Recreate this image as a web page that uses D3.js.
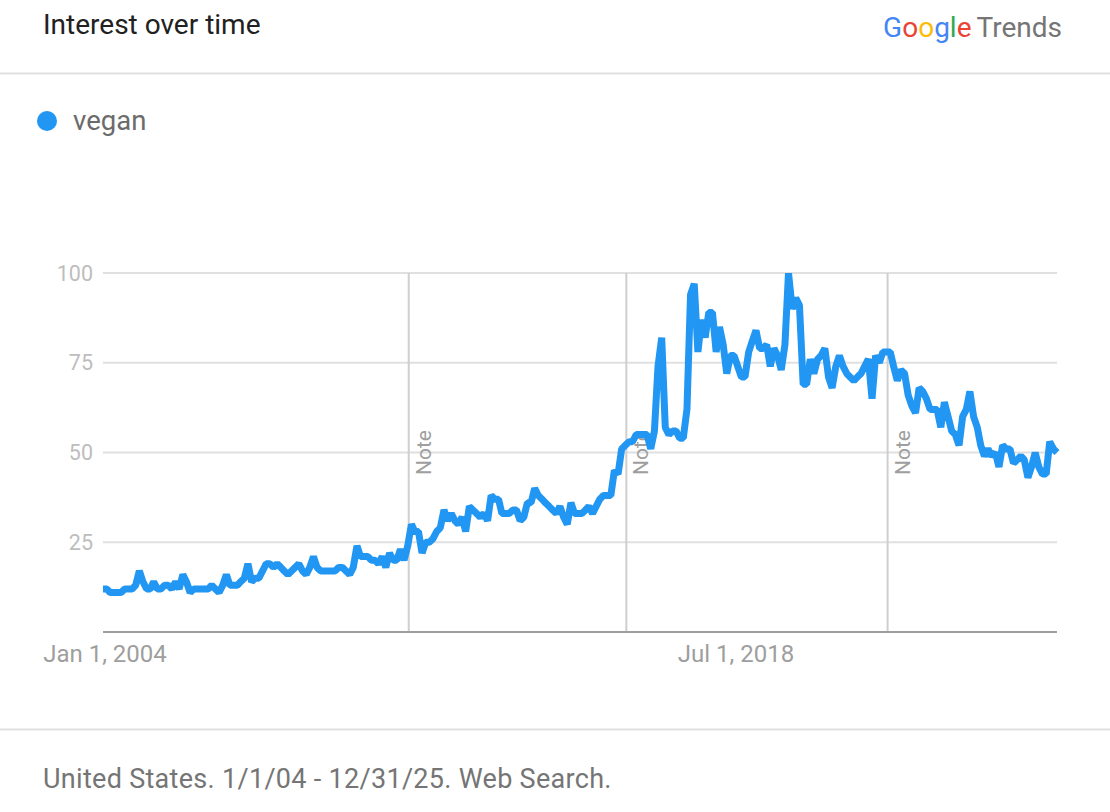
<!DOCTYPE html>
<meta charset="utf-8">
<head>
<style>
body { margin: 0; background: #fff; font-family: Roboto, "Noto Sans", sans-serif; }
svg { display: block; }
</style>
</head>
<body>
<svg width="1110" height="812"></svg>

<script src="https://d3js.org/d3.v7.min.js"></script>
<script>
// monthly interest, Jan 2004 .. Dec 2025
var seriesName = "vegan";
var firstMonth = "2004-01-01";
var vegan = [
  12,12,11,11,11,11,12,12,12,13,17,14,   // 2004
  12,12,14,12,12,13,13,12,14,12,16,14,   // 2005
  11,12,12,12,12,12,13,12,11,13,16,13,   // 2006
  13,13,14,15,19,14,15,15,17,19,19,18,   // 2007
  19,18,17,16,17,18,19,17,16,18,21,18,   // 2008
  17,17,17,17,17,18,18,17,16,18,24,21,   // 2009
  21,21,20,20,19,21,18,22,20,20,23,20,   // 2010
  24,30,28,28,22,25,25,26,28,29,34,31,   // 2011
  33,31,30,32,28,35,34,33,32,33,31,38,   // 2012
  37,37,33,33,33,34,34,31,32,36,36,40,   // 2013
  38,37,36,35,34,33,35,32,30,36,33,33,   // 2014
  33,34,35,33,35,37,38,38,38,45,44,51,   // 2015
  52,53,53,55,55,55,55,51,56,74,82,57,   // 2016
  55,56,56,54,54,62,94,97,78,87,82,89,   // 2017
  89,78,85,80,72,77,77,74,71,71,78,81,   // 2018
  84,79,79,80,74,79,77,73,80,100,90,93,  // 2019
  91,69,69,76,72,76,77,79,71,68,74,77,   // 2020
  74,72,71,70,71,72,74,76,65,77,75,78,   // 2021
  78,78,74,70,73,72,66,63,61,68,67,65,   // 2022
  62,62,62,57,64,60,56,55,52,60,62,67,   // 2023
  60,57,52,49,51,49,50,46,52,51,51,47,   // 2024
  48,49,48,43,46,50,46,44,44,53,51,50    // 2025
];
var yTicks = [25, 50, 75, 100];
var xTickDates = ["2004-01-01", "2018-07-01"];
var xTickLabels = ["Jan 1, 2004", "Jul 1, 2018"];
var noteDates = ["2011-01-01", "2016-01-01", "2022-01-01"];
var footerText = "United States. 1/1/04 - 12/31/25. Web Search.";

var parseDate = d3.timeParse("%Y-%m-%d");
var start = parseDate(firstMonth);
var months = d3.timeMonth.range(start, d3.timeMonth.offset(start, vegan.length));
var data = vegan.map(function(v, i) { return {date: months[i], value: v}; });

var svg = d3.select("svg"),
    W = 1110,
    plot = {left: 103, right: 1057, top: 273, bottom: 632};

var x = d3.scaleTime()
    .domain([months[0], months[months.length - 1]])
    .range([plot.left, plot.right]);
var y = d3.scaleLinear().domain([0, 100]).range([plot.bottom, plot.top]);

// header
svg.append("text")
    .attr("x", 43).attr("y", 34)
    .attr("font-size", 28).attr("fill", "#212121")
    .text("Interest over time");

var logo = svg.append("text")
    .attr("x", 1062).attr("y", 37)
    .attr("text-anchor", "end")
    .attr("font-size", 28);
[["G","#4285F4"],["o","#EA4335"],["o","#FBBC05"],["g","#4285F4"],["l","#34A853"],["e","#EA4335"]]
  .forEach(function(c) { logo.append("tspan").attr("fill", c[1]).text(c[0]); });
logo.append("tspan").attr("fill", "#757575").attr("dx", 5).text("Trends");

svg.append("line")
    .attr("x1", 0).attr("x2", W).attr("y1", 73.5).attr("y2", 73.5)
    .attr("stroke", "#e0e0e0").attr("stroke-width", 2);

// legend
svg.append("circle").attr("cx", 47).attr("cy", 121).attr("r", 10).attr("fill", "#2196F3");
svg.append("text")
    .attr("x", 73).attr("y", 130)
    .attr("font-size", 27.5).attr("fill", "#6b6b6b")
    .text(seriesName);

// grid
var g = svg.append("g");
g.selectAll(".grid").data(yTicks).enter().append("line")
    .attr("x1", plot.left).attr("x2", plot.right)
    .attr("y1", function(d) { return y(d); })
    .attr("y2", function(d) { return y(d); })
    .attr("stroke", "#e0e0e0").attr("stroke-width", 2);

g.selectAll(".ylab").data(yTicks).enter().append("text")
    .attr("x", 93)
    .attr("y", function(d) { return y(d); })
    .attr("dy", "0.35em")
    .attr("text-anchor", "end")
    .attr("font-size", 21.5).attr("fill", "#bdbdbd")
    .text(function(d) { return d; });

// notes
var notes = g.selectAll(".note").data(noteDates.map(parseDate)).enter().append("g");
notes.append("line")
    .attr("x1", function(d) { return x(d) + 1; })
    .attr("x2", function(d) { return x(d) + 1; })
    .attr("y1", plot.top).attr("y2", plot.bottom)
    .attr("stroke", "#cfcfcf").attr("stroke-width", 2);
notes.append("text")
    .attr("transform", function(d) { return "translate(" + (x(d) + 23) + "," + y(50) + ") rotate(-90)"; })
    .attr("text-anchor", "middle")
    .attr("font-size", 21).attr("fill", "#9e9e9e")
    .text("Note");

// x axis baseline + labels
g.append("line")
    .attr("x1", plot.left).attr("x2", plot.right)
    .attr("y1", plot.bottom).attr("y2", plot.bottom)
    .attr("stroke", "#9e9e9e").attr("stroke-width", 2);

g.selectAll(".xlab").data(xTickDates).enter().append("text")
    .attr("x", function(d) { return x(parseDate(d)) + 2; })
    .attr("y", 662)
    .attr("text-anchor", "middle")
    .attr("font-size", 24).attr("fill", "#9e9e9e")
    .text(function(d, i) { return xTickLabels[i]; });

// series line, clipped to plot box
svg.append("clipPath").attr("id", "clip")
  .append("rect")
    .attr("x", plot.left - 4).attr("y", plot.top)
    .attr("width", plot.right - plot.left + 8).attr("height", plot.bottom - plot.top);

var line = d3.line()
    .x(function(d) { return x(d.date); })
    .y(function(d) { return y(d.value); });

svg.append("path")
    .attr("clip-path", "url(#clip)")
    .attr("fill", "none")
    .attr("stroke", "#2196F3")
    .attr("stroke-width", 7)
    .attr("stroke-linejoin", "bevel")
    .attr("d", line(data));

// footer
svg.append("line")
    .attr("x1", 0).attr("x2", W).attr("y1", 729.5).attr("y2", 729.5)
    .attr("stroke", "#e0e0e0").attr("stroke-width", 2);
svg.append("text")
    .attr("x", 43).attr("y", 788)
    .attr("font-size", 27).attr("letter-spacing", 0.3).attr("fill", "#757575")
    .text(footerText);
</script>
</body>
